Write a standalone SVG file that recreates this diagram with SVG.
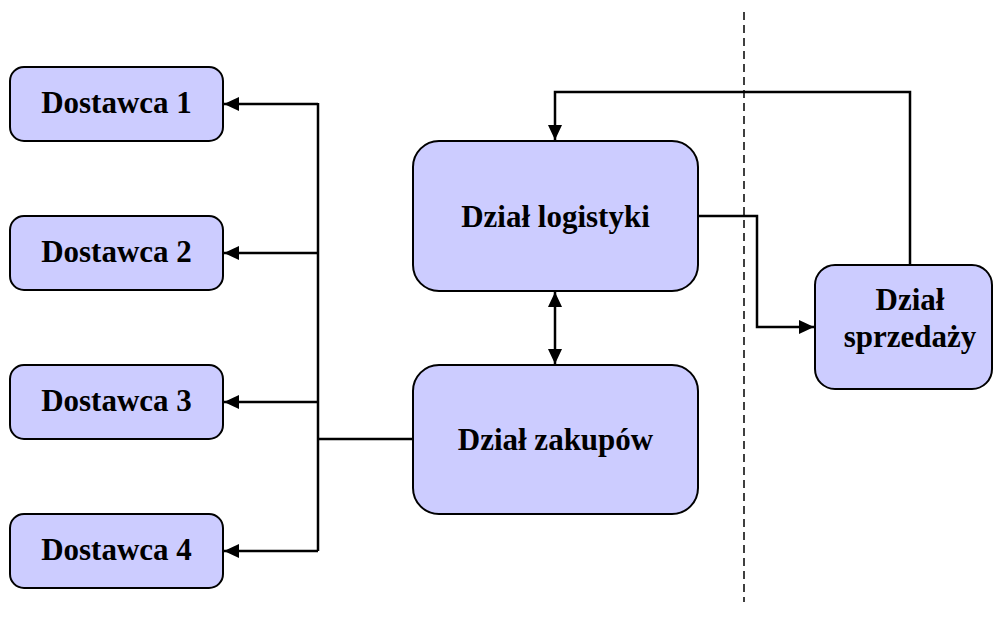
<svg xmlns="http://www.w3.org/2000/svg" width="994" height="628" viewBox="0 0 994 628">
<defs>
<style>
.box{fill:#ccccff;stroke:#000;stroke-width:2}
.lbl{font-weight:bold;font-size:31px;fill:#000;text-anchor:middle}
.con{fill:none;stroke:#000;stroke-width:2.5}
</style>
<marker id="ah" markerUnits="userSpaceOnUse" markerWidth="16" markerHeight="14" refX="15" refY="7" orient="auto-start-reverse">
<path d="M0,0 L15,7 L0,14 Z" fill="#000"/>
</marker>
</defs>
<rect width="994" height="628" fill="#fff"/>
<line x1="744" y1="12" x2="744" y2="602" stroke="#000" stroke-width="1.5" stroke-dasharray="8,5"/>
<g font-family="'Liberation Serif', 'Times New Roman', Times, serif">
<g id="dostawca1"><rect class="box" x="10" y="67" width="213" height="74" rx="14"/><text class="lbl" x="116.5" y="113">Dostawca 1</text></g>
<g id="dostawca2"><rect class="box" x="10" y="216" width="213" height="74" rx="14"/><text class="lbl" x="116.5" y="262">Dostawca 2</text></g>
<g id="dostawca3"><rect class="box" x="10" y="365" width="213" height="74" rx="14"/><text class="lbl" x="116.5" y="411">Dostawca 3</text></g>
<g id="dostawca4"><rect class="box" x="10" y="514" width="213" height="74" rx="14"/><text class="lbl" x="116.5" y="560">Dostawca 4</text></g>
<g id="logistyki"><rect class="box" x="413" y="141" width="285" height="150" rx="26"/><text class="lbl" x="555.5" y="227">Dział logistyki</text></g>
<g id="zakupow"><rect class="box" x="413" y="365" width="285" height="149" rx="26"/><text class="lbl" x="555.5" y="450">Dział zakupów</text></g>
<g id="sprzedazy"><rect class="box" x="815" y="265" width="177" height="124" rx="20"/><text class="lbl" x="910" y="310">Dział</text><text class="lbl" x="910" y="347">sprzedaży</text></g>
</g>
<g id="connectors">
<line class="con" x1="318" y1="103" x2="318" y2="551"/>
<line class="con" x1="318" y1="104" x2="224" y2="104" marker-end="url(#ah)"/>
<line class="con" x1="318" y1="253" x2="224" y2="253" marker-end="url(#ah)"/>
<line class="con" x1="318" y1="402" x2="224" y2="402" marker-end="url(#ah)"/>
<line class="con" x1="318" y1="551" x2="224" y2="551" marker-end="url(#ah)"/>
<line class="con" x1="318" y1="439" x2="413" y2="439"/>
<line class="con" x1="555" y1="292" x2="555" y2="364" marker-start="url(#ah)" marker-end="url(#ah)"/>
<polyline class="con" points="910,265 910,92 555,92 555,140" marker-end="url(#ah)"/>
<polyline class="con" points="698,216 757,216 757,327 814,327" marker-end="url(#ah)"/>
</g>
</svg>
